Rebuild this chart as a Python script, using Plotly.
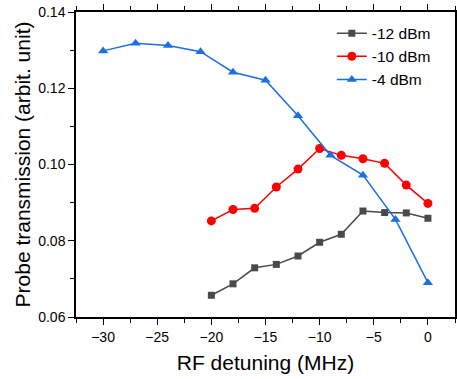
import plotly.graph_objects as go

x_black = [-20, -18, -16, -14, -12, -10, -8, -6, -4, -2, 0]
y_black = [0.0657, 0.0687, 0.0729, 0.0738, 0.0760, 0.0796, 0.0817, 0.0878, 0.0874, 0.0873, 0.0859]

x_red = [-20, -18, -16, -14, -12, -10, -8, -6, -4, -2, 0]
y_red = [0.0852, 0.0882, 0.0885, 0.0941, 0.0988, 0.1042, 0.1024, 0.1015, 0.1003, 0.0946, 0.0898]

x_blue = [-30, -27, -24, -21, -18, -15, -12, -9, -6, -3, 0]
y_blue = [0.1298, 0.1318, 0.1312, 0.1296, 0.1242, 0.1221, 0.1128, 0.1024, 0.0972, 0.0856, 0.0690]

names = ["-12 dBm", "-10 dBm", "-4 dBm"]
colors = ["#4a4a4a", "#ff0000", "#1c6fe0"]

x_ticks = [-30, -25, -20, -15, -10, -5, 0]
y_ticks = [0.06, 0.08, 0.10, 0.12, 0.14]
x_range = [-32.5, 2.5]
y_range = [0.06, 0.14]

fig = go.Figure()
fig.add_trace(go.Scatter(x=x_black, y=y_black, name=names[0], mode="lines+markers",
                         line=dict(color=colors[0], width=1.5),
                         marker=dict(symbol="square", size=7, color=colors[0])))
fig.add_trace(go.Scatter(x=x_red, y=y_red, name=names[1], mode="lines+markers",
                         line=dict(color=colors[1], width=1.5),
                         marker=dict(symbol="circle", size=9, color=colors[1])))
fig.add_trace(go.Scatter(x=x_blue, y=y_blue, name=names[2], mode="lines+markers",
                         line=dict(color=colors[2], width=1.5),
                         marker=dict(symbol="triangle-up", size=9, color=colors[2])))

font = "Liberation Sans, Arial, sans-serif"
fig.update_layout(
    width=457, height=379,
    margin=dict(l=76, r=2, t=12, b=62),
    plot_bgcolor="white", paper_bgcolor="white",
    font=dict(family=font, color="black", size=13),
    legend=dict(x=0.675, y=0.985, xanchor="left", yanchor="top",
                bgcolor="rgba(0,0,0,0)", font=dict(size=15.5), tracegroupgap=0,
                itemwidth=30),
    xaxis=dict(range=x_range, tickvals=x_ticks, automargin=False, mirror="allticks",
               ticks="outside", ticklen=6, tickwidth=1.2, tickcolor="black",
               minor=dict(dtick=2.5, tick0=0, ticks="outside", ticklen=4, tickcolor="black"),
               showline=True, linecolor="black", linewidth=1.5, showgrid=False, zeroline=False,
               title=dict(text="RF detuning (MHz)", font=dict(size=21), standoff=12),
               tickfont=dict(size=14)),
    yaxis=dict(range=y_range, tickvals=y_ticks, tickformat=".2f", automargin=False, mirror="allticks",
               ticks="outside", ticklen=6, tickwidth=1.2, tickcolor="black",
               minor=dict(dtick=0.01, tick0=0.06, ticks="outside", ticklen=4, tickcolor="black"),
               showline=True, linecolor="black", linewidth=1.5, showgrid=False, zeroline=False,
               title=dict(text="Probe transmission (arbit. unit)", font=dict(size=21), standoff=2),
               tickfont=dict(size=14)),
)
fig.write_html("out.html", config={"displayModeBar": False},
               post_script="document.body.style.margin='0';")
